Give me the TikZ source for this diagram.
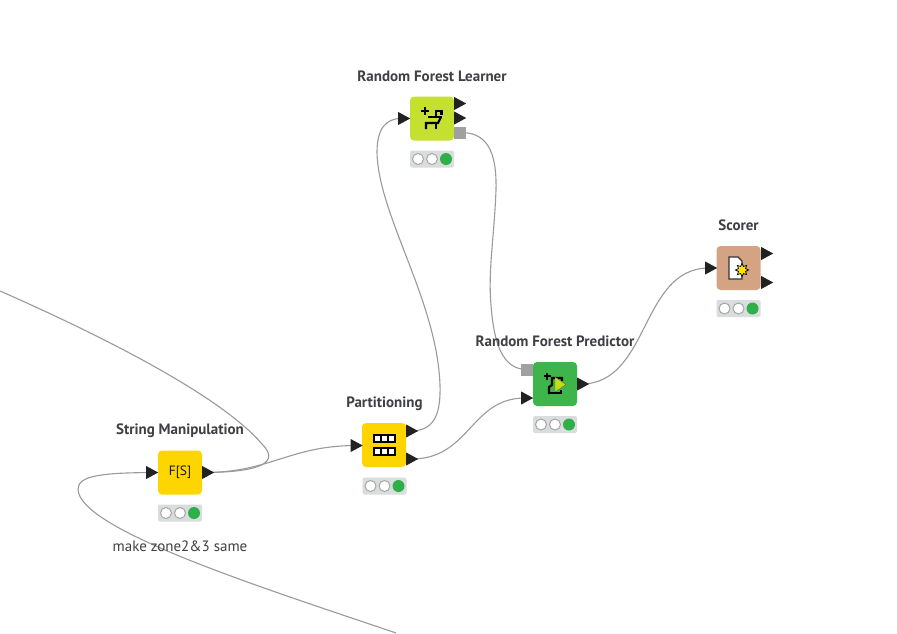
\documentclass[tikz,border=0pt]{standalone}
\usepackage{fontspec}
\setmainfont{PT Sans}
\usetikzlibrary{shapes.geometric}
\pgfdeclarelayer{paper}
\pgfdeclarelayer{wires}
\pgfsetlayers{paper,wires,main}
\definecolor{knimeyellow}{HTML}{FFD500}
\definecolor{knimelime}{HTML}{C6E02F}
\definecolor{knimegreen}{HTML}{3DB54A}
\definecolor{knimetan}{HTML}{D4A384}
\definecolor{lightgreen}{HTML}{2EAF4A}
\definecolor{labelcol}{HTML}{3F3F46}
\definecolor{wirecol}{HTML}{9A9A9A}
\definecolor{trafficbg}{HTML}{DADDDD}
\definecolor{portgray}{HTML}{A0A0A0}
\definecolor{portblack}{HTML}{222222}
\tikzset{
  x=1pt,y=-1pt,
  kbox/.style={rounded corners=4pt,minimum width=44pt,minimum height=44pt,inner sep=0pt,draw=none},
  kport/.style={isosceles triangle,isosceles triangle apex angle=58,isosceles triangle stretches,fill=portblack,draw=none,minimum height=12pt,minimum width=13pt,inner sep=0pt,anchor=west},
  gport/.style={fill=portgray,draw=none,minimum width=12pt,minimum height=12pt,inner sep=0pt},
  ktitle/.style={text=labelcol,font=\bfseries\fontsize{15pt}{17pt}\selectfont,inner sep=0pt},
  knote/.style={text=labelcol,font=\fontsize{15pt}{17pt}\selectfont,inner sep=0pt},
  kstat/.style={fill=trafficbg,rounded corners=2pt,minimum width=44pt,minimum height=17pt,inner sep=0pt},
  lamp/.style={circle,minimum size=11pt,inner sep=0pt,fill=white,draw=gray!70,line width=1pt},
  lampon/.style={circle,minimum size=12pt,inner sep=0pt,fill=lightgreen,draw=none},
  wire/.style={draw=wirecol,line width=1.1pt},
  icon/.style={draw=black,line width=2.1pt},
}
\newcommand{\kstatus}[2]{%
  \node[kstat] (#1s) at #2 {};
  \node[lamp] (#1a) at ([xshift=-14pt]#1s.center) {};
  \node[lamp] (#1b) at (#1s.center) {};
  \node[lampon] (#1c) at ([xshift=14pt]#1s.center) {};
}
\begin{document}
\begin{tikzpicture}
\useasboundingbox (0,0) rectangle (897,633);
\clip (0,0) rectangle (897,633);
\begin{pgfonlayer}{paper}
\fill[white] (0,0) rectangle (897,633);
\end{pgfonlayer}

% free ends
\coordinate (smfreea) at (0,291);
\coordinate (smfreeb) at (396,633);

% boxes
\node[kbox,fill=knimeyellow] (sm) at (180,472.5) {};
\node[kbox,fill=knimeyellow] (pa) at (384,445) {};
\node[kbox,fill=knimelime] (rl) at (432,118.5) {};
\node[kbox,fill=knimegreen] (rp) at (555,384) {};
\node[kbox,fill=knimetan] (sc) at (738.5,268) {};

% ports
\node[kport] (smi) at (146,472.5) {};
\node[kport] (smo) at (202,472.5) {};
\node[kport] (pai) at (350.5,445.5) {};
\node[kport] (pao1) at (406,431) {};
\node[kport] (pao2) at (406,459) {};
\node[kport] (rli) at (398,118.5) {};
\node[kport] (rlo1) at (454,103.5) {};
\node[kport] (rlo2) at (454,118) {};
\node[gport] (rlg) at (459.5,132.5) {};
\node[gport] (rpg) at (527,369.5) {};
\node[kport] (rpi) at (521,398) {};
\node[kport] (rpo) at (577,384) {};
\node[kport] (sci) at (705,268) {};
\node[kport] (sco1) at (761,253.5) {};
\node[kport] (sco2) at (761,282.5) {};

% connectors
\begin{pgfonlayer}{wires}
\draw[wire] (smo.center) .. controls (262,472) and (280,462) .. (262,444) .. controls (220,395) and (100,335) .. (smfreea);
\draw[wire] (smi.center) .. controls (105,473) and (78,475) .. (78,489) .. controls (78,530) and (270,590) .. (smfreeb);
\draw[wire] (smo.center) .. controls (270,472) and (290,446) .. (pai.center);
\draw[wire] (pao1.center) .. controls (432,431) and (441,418) .. (440,385) .. controls (437,300) and (378,215) .. (377,152) .. controls (377,130) and (385,118) .. (rli.center);
\draw[wire] (rlg.center) .. controls (485,132) and (497,148) .. (496,190) .. controls (494,240) and (488,270) .. (491,305) .. controls (494,345) and (503,369.5) .. (rpg.center);
\draw[wire] (pao2.center) .. controls (470,460) and (470,398) .. (rpi.center);
\draw[wire] (rpo.center) .. controls (650,384) and (640,268) .. (sci.center);
\end{pgfonlayer}

% titles
\node[ktitle] (smt) at (180,431) {String Manipulation};
\node[ktitle] (pat) at (384.5,404) {Partitioning};
\node[ktitle] (rlt) at (432,76) {Random Forest Learner};
\node[ktitle] (rpt) at (555,341) {Random Forest Predictor};
\node[ktitle] (sct) at (738.5,225) {Scorer};
\node[knote] (smn) at (180,546.5) {make zone2\&3 same};

% status
\kstatus{sm}{(180,513)}
\kstatus{pa}{(384.5,486)}
\kstatus{rl}{(432,159)}
\kstatus{rp}{(555,424.5)}
\kstatus{sc}{(738.5,308.5)}

% icons
\node[inner sep=0pt,text=black!90,font=\fontsize{13.5pt}{13.5pt}\selectfont] (smic) at (180,472.5) {F[S]};

% partitioning icon
\foreach \yy in {-6.5,6.5}{
  \draw[line width=1.4pt,fill=white] (374,445+\yy-3.5) rectangle (395,445+\yy+3.5);
  \draw[line width=1.2pt] (381,445+\yy-3.5) -- (381,445+\yy+3.5) (388,445+\yy-3.5) -- (388,445+\yy+3.5);
}

% learner icon
\draw[icon] (428,117) -- (442,117);
\draw[icon] (436,118) -- (436,111) -- (441.5,111) -- (441.5,115);
\draw[icon] (441,117) -- (438,123) -- (426,123) -- (426,129);
\draw[icon] (436,122) -- (436,129);
\draw[line width=2pt] (421,111) -- (429,111) (425,107) -- (425,115);

% predictor icon
\draw[icon] (549,394) -- (549,387) -- (552,385) -- (552,378) -- (562,378) -- (562,381);
\draw[icon] (548,393) -- (561,393) -- (561,390);
\draw[line width=2pt] (543.5,376) -- (550.5,376) (547,372.5) -- (547,379.5);
\fill[yellow!75!green,draw=black!60,line width=0.4pt] (555,377) -- (566,384.5) -- (555,392) -- cycle;

% scorer icon
\draw[line width=1.3pt,draw=black!80,fill=white] (729,257) -- (738,257) -- (742,261) -- (742,279) -- (729,279) -- cycle;
\node[star,star points=8,star point ratio=1.7,minimum size=13pt,inner sep=0pt,fill=yellow!85!orange,draw=black,line width=0.7pt] (scst) at (742,270) {};
\end{tikzpicture}
\end{document}
